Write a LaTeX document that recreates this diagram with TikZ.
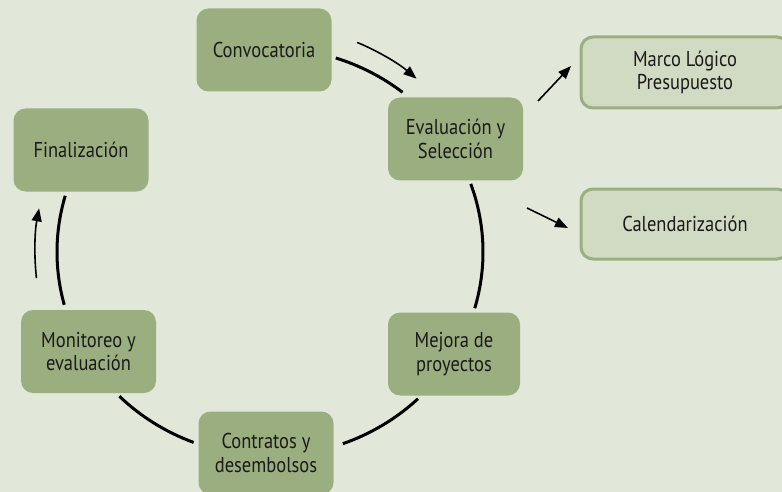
\documentclass[tikz,border=0pt]{standalone}
\usepackage{fontspec}
\setmainfont{PT Sans}[FakeStretch=0.86]
\usetikzlibrary{arrows.meta,calc}
\definecolor{bgc}{HTML}{E1E8D9}
\definecolor{boxc}{HTML}{9BAE80}
\definecolor{lboxc}{HTML}{D1DAC3}
\definecolor{txtc}{HTML}{1A1A1A}
\begin{document}
\begin{tikzpicture}[x=1pt,y=-1pt,
  stage/.style={rectangle, rounded corners=12pt, fill=boxc, text=txtc,
    minimum width=135pt, minimum height=83pt, align=center, inner sep=0pt,
    font=\fontsize{21.5}{23.5}\selectfont},
  side/.style={rectangle, rounded corners=12pt, fill=lboxc, draw=boxc, line width=3pt,
    text=txtc, minimum width=208pt, minimum height=71pt, align=center, inner sep=0pt,
    font=\fontsize{21.5}{23.5}\selectfont},
  ring/.style={line width=3pt, black},
  arr/.style={line width=1.6pt, black, -{Triangle[length=13pt,width=10pt]}}]
\fill[bgc] (0,0) rectangle (782,492);
\useasboundingbox (0,0) rectangle (782,492);
\node[stage] (conv) at (264,50) {Convocatoria};
\node[stage] (eval) at (455.5,139) {Evaluación y\\Selección};
\node[stage] (fin) at (81,150) {Finalización};
\node[stage, minimum width=132pt] (mej) at (454,354) {Mejora de\\proyectos};
\node[stage] (con) at (266,453) {Contratos y\\desembolsos};
\node[stage] (mon) at (88.5,351.5) {Monitoreo y\\evaluación};
\node[side] (marco) at (685,72.5) {Marco Lógico\\Presupuesto};
\node[side, minimum height=70pt] (cal) at (685,224) {Calendarización};
% ring
\coordinate (c) at (270,252);
\coordinate (r1) at ($(c)+(-72:213 and 204)$);
\coordinate (r2) at ($(c)+(-19.5:213 and 204)$);
\coordinate (r3) at ($(c)+(46:213 and 204)$);
\coordinate (r4) at ($(c)+(111:213 and 204)$);
\coordinate (r5) at ($(c)+(-164:213 and 204)$);
\draw[ring] (r1) arc[start angle=-72, end angle=-51.5, x radius=213, y radius=204];
\draw[ring] (r2) arc[start angle=-19.5, end angle=16, x radius=213, y radius=204];
\draw[ring] (r3) arc[start angle=46, end angle=70, x radius=213, y radius=204];
\draw[ring] (r4) arc[start angle=111, end angle=135, x radius=213, y radius=204];
\draw[ring] (r5) arc[start angle=-164, end angle=-195, x radius=213, y radius=204];
% arrows
\coordinate (t1) at ($(c)+(-67.4:227)$);
\draw[arr] (t1) arc[start angle=-67.4, end angle=-49.8, radius=227];
\coordinate (t4) at ($(c)+(-186.4:235)$);
\draw[arr] (t4) arc[start angle=-186.4, end angle=-169.3, radius=235];
\coordinate (m1) at (538,101);
\coordinate (m2) at (571,66);
\draw[arr] (m1) -- (m2);
\coordinate (k1) at (527,208);
\coordinate (k2) at (568,228);
\draw[arr] (k1) -- (k2);
\end{tikzpicture}
\end{document}
